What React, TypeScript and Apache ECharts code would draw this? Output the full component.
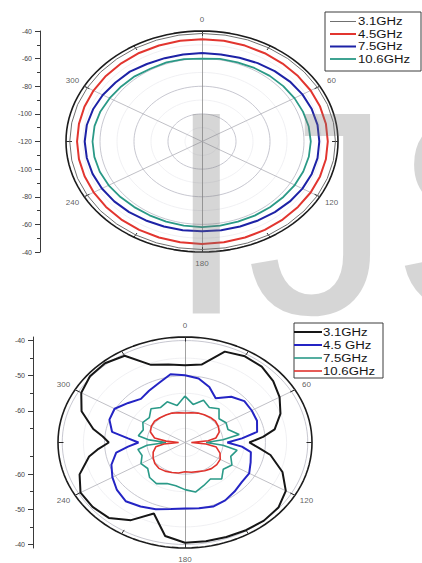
import React, { useEffect, useRef } from "react";
import * as echarts from "echarts";

const FONT = '"Liberation Sans", Arial, Helvetica, sans-serif';

// ---- polar frame shared by both plots (degrees, clockwise from top) ----
const ANGLE_LABELS = [0, 60, 120, 180, 240, 300];
const SPOKE_ANGLES = [0, 60, 120];
const RIM_TICK_ANGLES = [0, 30, 60, 90, 120, 150, 180, 210, 240, 270, 300, 330];

// ---- upper plot: radial scale -120 dB (centre) to -40 dB (rim) ----
const TOP_CENTER_DB = -120;
const TOP_RIM_DB = -40;
const TOP_RULER_LABELS = [-40, -60, -80, -100, -120];
const TOP_RULER_MINOR = [-50, -70, -90, -110];
const TOP_RINGS = [-100, -80, -60];
const TOP_FAINT_RINGS = [-110, -90, -70, -50];
const TOP_NAMES = ["3.1GHz", "4.5GHz", "7.5GHz", "10.6GHz"];
const TOP_COLORS = ["#707070", "#e2352f", "#1d22a6", "#2a9986"];
const TOP_WIDTHS = [1, 2, 2, 1.8];
const TOP_ANGLES = [
  0, 10, 20, 30, 40, 50, 60, 70, 80, 90, 100, 110, 120, 130, 140, 150, 160, 170,
  180, 190, 200, 210, 220, 230, 240, 250, 260, 270, 280, 290, 300, 310, 320, 330, 340, 350,
];
const TOP_3_1GHZ = [
  -41.8, -41.8, -41.7, -41.7, -41.6, -41.6, -41.6, -41.5, -41.5, -41.5, -41.5, -41.6,
  -41.6, -41.7, -41.7, -41.8, -41.8, -41.8, -41.8, -41.8, -41.9, -41.9, -42.0, -42.0,
  -42.1, -42.1, -42.2, -42.2, -42.2, -42.1, -42.1, -42.0, -42.0, -41.9, -41.9, -41.8,
];
const TOP_4_5GHZ = [
  -46.0, -46.0, -46.1, -46.2, -46.3, -46.3, -46.2, -46.1, -46.0, -46.0, -46.0, -46.1,
  -46.2, -46.3, -46.2, -46.1, -46.0, -45.9, -45.8, -45.9, -46.0, -46.1, -46.2, -46.3,
  -46.4, -46.5, -46.5, -46.5, -46.5, -46.4, -46.3, -46.2, -46.1, -46.0, -46.0, -46.0,
];
const TOP_7_5GHZ = [
  -56.0, -56.0, -55.5, -54.5, -53.5, -52.5, -51.8, -51.3, -51.0, -51.0, -51.0, -51.3,
  -51.8, -52.5, -53.3, -54.0, -54.5, -54.8, -55.0, -54.8, -54.5, -54.0, -53.3, -52.6,
  -52.0, -51.5, -51.2, -51.0, -51.2, -51.8, -52.6, -53.6, -54.0, -55.2, -55.8, -56.0,
];
const TOP_10_6GHZ = [
  -60.0, -59.3, -59.0, -58.5, -58.0, -57.6, -57.2, -56.8, -56.3, -56.0, -56.2, -56.6,
  -57.0, -57.5, -57.8, -58.0, -58.2, -58.2, -58.0, -58.2, -58.3, -58.3, -58.0, -57.4,
  -56.6, -56.0, -55.7, -55.6, -55.8, -56.4, -57.3, -58.0, -58.4, -59.2, -59.0, -59.5,
];

// ---- lower plot: radial scale -69 dB (centre) to -39 dB (rim) ----
const BOTTOM_CENTER_DB = -69;
const BOTTOM_RIM_DB = -39;
const BOTTOM_RULER_LABELS = [-40, -50, -60];
const BOTTOM_RULER_MINOR = [-45, -55, -65];
const BOTTOM_RINGS = [-60, -50, -40];
const BOTTOM_FAINT_RINGS = [-65, -55, -45];
const BOTTOM_NAMES = ["3.1GHz", "4.5 GHz", "7.5GHz", "10.6GHz"];
const BOTTOM_COLORS = ["#161616", "#2424c4", "#2a9a88", "#e0322c"];
const BOTTOM_WIDTHS = [2, 2, 1.6, 1.6];
const BOTTOM_ANGLES = [
  0, 10, 20, 30, 40, 50, 60, 70, 80, 85, 90, 95, 100, 110, 120, 130, 140, 150, 160, 170,
  180, 190, 200, 210, 220, 230, 240, 250, 260, 265, 270, 275, 280, 290, 300, 310, 320, 330, 340, 350,
];
const BOTTOM_3_1GHZ = [
  -47.0, -46.5, -41.5, -40.7, -40.8, -41.8, -43.2, -45.0, -47.5, -50.5, -53.8, -51.5, -48.5,
  -44.5, -41.5, -40.2, -40.0, -40.2, -40.4, -40.5, -40.5, -42.0, -47.5, -43.5, -41.0, -40.5,
  -40.5, -42.5, -46.0, -48.5, -51.0, -49.5, -47.0, -43.0, -40.7, -39.7, -39.6, -40.5, -45.5, -46.5,
];
const BOTTOM_4_5GHZ = [
  -49.9, -50.5, -52.2, -54.5, -52.0, -50.7, -50.8, -50.9, -51.7, -55.5, -59.0, -55.5, -53.2,
  -52.5, -51.5, -51.5, -50.8, -50.0, -49.6, -50.0, -50.2, -49.8, -48.8, -48.0, -47.2, -48.0,
  -49.2, -50.5, -52.5, -55.5, -58.0, -55.5, -51.5, -50.0, -49.8, -51.5, -52.8, -52.0, -51.0, -49.3,
];
const BOTTOM_7_5GHZ = [
  -55.8, -58.0, -56.2, -57.5, -56.5, -58.5, -57.8, -58.2, -56.0, -60.0, -64.0, -60.0, -56.5,
  -57.5, -56.2, -57.2, -55.5, -57.0, -56.0, -54.7, -55.6, -56.5, -56.6, -55.5, -56.0, -57.5,
  -57.0, -58.2, -57.7, -60.0, -64.5, -60.5, -57.8, -58.5, -57.5, -58.0, -56.5, -57.5, -56.7, -58.3,
];
const BOTTOM_10_6GHZ = [
  -60.6, -60.4, -60.1, -59.9, -59.7, -59.6, -59.9, -60.4, -61.6, -63.5, -67.5, -64.0, -61.5,
  -60.2, -59.4, -59.2, -59.3, -59.7, -60.2, -60.4, -60.7, -60.2, -59.9, -59.6, -59.4, -59.7,
  -60.3, -61.0, -62.0, -64.0, -67.5, -64.5, -61.7, -60.3, -59.8, -59.6, -59.8, -60.0, -60.1, -60.4,
];

type XY = [number, number];

const rad = (deg: number) => (deg * Math.PI) / 180;

// polar (angle, level) -> cartesian offset from the plot centre, in dB units
const toXY = (deg: number, db: number, centerDb: number): XY => {
  const r = db - centerDb;
  return [r * Math.sin(rad(deg)), r * Math.cos(rad(deg))];
};

const ringData = (db: number, centerDb: number): XY[] => {
  const pts: XY[] = [];
  for (let a = 0; a <= 360; a += 3) pts.push(toXY(a, db, centerDb));
  return pts;
};

const curveData = (angles: number[], values: number[], centerDb: number): XY[] => {
  const pts = angles.map((a, i) => toXY(a, values[i], centerDb));
  pts.push(pts[0]);
  return pts;
};

const mirrored = (labels: number[], centerDb: number) => {
  const out: number[] = [];
  labels.forEach((l) => {
    const r = l - centerDb;
    out.push(r);
    if (r !== 0) out.push(-r);
  });
  return out.sort((a, b) => a - b);
};

interface Panel {
  grid: number;
  yIndex: number;
  centerDb: number;
  rimDb: number;
  rings: number[];
  faintRings: number[];
  angles: number[];
  curves: number[][];
  names: string[];
  colors: string[];
  widths: number[];
  labelK: number;
  tickLen: number;
}

function panelSeries(p: Panel): any[] {
  const out: any[] = [];
  const base = {
    type: "line",
    xAxisIndex: p.grid,
    yAxisIndex: p.yIndex,
    symbol: "none",
    silent: true,
    clip: false,
    animation: false,
  };
  p.faintRings.forEach((db) =>
    out.push({ ...base, data: ringData(db, p.centerDb), lineStyle: { color: "#ececf0", width: 0.8 }, z: 1 })
  );
  p.rings.forEach((db) =>
    out.push({ ...base, data: ringData(db, p.centerDb), lineStyle: { color: "#b9b9c4", width: 0.8 }, z: 1 })
  );

  const spokes = SPOKE_ANGLES.map((a) => [
    { coord: toXY(a, p.rimDb, p.centerDb), lineStyle: { color: a === 0 ? "#8a8a8a" : "#b0b0b8", width: 0.8, type: "solid" } },
    { coord: toXY(a + 180, p.rimDb, p.centerDb) },
  ]);
  const ticks = RIM_TICK_ANGLES.map((a) => [
    { coord: toXY(a, p.rimDb, p.centerDb), lineStyle: { color: "#2a2a2a", width: 1, type: "solid" } },
    { coord: toXY(a, p.rimDb - p.tickLen, p.centerDb) },
  ]);
  out.push({
    ...base,
    data: ringData(p.rimDb, p.centerDb),
    lineStyle: { color: "#1c1c1c", width: 1.6 },
    z: 3,
    markLine: {
      silent: true,
      animation: false,
      symbol: ["none", "none"],
      label: { show: false },
      lineStyle: { color: "#b0b0b8", width: 0.8, type: "solid" },
      emphasis: { disabled: true },
      data: [...spokes, ...ticks],
    },
  });

  p.curves.forEach((vals, i) =>
    out.push({
      ...base,
      name: p.names[i],
      data: curveData(p.angles, vals, p.centerDb),
      lineStyle: { color: p.colors[i], width: p.widths[i] },
      z: 5 + i,
    })
  );

  const labelDb = p.centerDb + (p.rimDb - p.centerDb) * p.labelK;
  out.push({
    type: "scatter",
    xAxisIndex: p.grid,
    yAxisIndex: p.yIndex,
    silent: true,
    clip: false,
    animation: false,
    symbolSize: 1,
    itemStyle: { color: "rgba(0,0,0,0)" },
    data: ANGLE_LABELS.map((a) => [...toXY(a, labelDb, p.centerDb), a]),
    label: {
      show: true,
      position: "inside",
      formatter: (q: any) => String(q.value[2]),
      fontSize: 8,
      color: "#333",
      fontFamily: FONT,
    },
    z: 10,
  });
  return out;
}

function rulerAxes(grid: number, half: number, offset: number, centerDb: number, major: number[], minor: number[]) {
  const lineColor = "#3a3a3a";
  return [
    {
      gridIndex: grid,
      type: "value",
      min: -half,
      max: half,
      position: "left",
      offset,
      axisLine: { show: true, lineStyle: { color: lineColor, width: 1 } },
      axisTick: { show: true, length: 5, lineStyle: { color: lineColor }, customValues: major },
      axisLabel: {
        show: true,
        customValues: major,
        formatter: (v: number) => String(Math.round(centerDb + Math.abs(v))),
        fontSize: 7,
        color: "#444",
        fontFamily: FONT,
        margin: 8,
      },
      splitLine: { show: false },
    },
    {
      gridIndex: grid,
      type: "value",
      min: -half,
      max: half,
      position: "left",
      offset,
      axisLine: { show: false },
      axisTick: { show: true, length: 3, lineStyle: { color: lineColor }, customValues: minor },
      axisLabel: { show: false },
      splitLine: { show: false },
    },
  ];
}

function legendGraphic(
  box: { x: number; y: number; w: number; h: number },
  rows: number[],
  lineX: [number, number],
  textX: number,
  names: string[],
  colors: string[],
  widths: number[]
) {
  const children: any[] = [
    {
      type: "rect",
      shape: { x: box.x, y: box.y, width: box.w, height: box.h },
      style: { fill: "#fff", stroke: "#3c3c3c", lineWidth: 1 },
    },
  ];
  names.forEach((n, i) => {
    children.push({
      type: "line",
      shape: { x1: lineX[0], y1: rows[i], x2: lineX[1], y2: rows[i] },
      style: { stroke: colors[i], lineWidth: widths[i] },
    });
    children.push({
      type: "text",
      x: textX,
      y: rows[i],
      scaleX: 1.2,
      style: { text: n, fontSize: 11, fontFamily: FONT, fill: "#151515", align: "left", verticalAlign: "middle" },
    });
  });
  return { type: "group", silent: true, z: 20, children };
}

function buildOption() {
  const top: Panel = {
    grid: 0,
    yIndex: 0,
    centerDb: TOP_CENTER_DB,
    rimDb: TOP_RIM_DB,
    rings: TOP_RINGS,
    faintRings: TOP_FAINT_RINGS,
    angles: TOP_ANGLES,
    curves: [TOP_3_1GHZ, TOP_4_5GHZ, TOP_7_5GHZ, TOP_10_6GHZ],
    names: TOP_NAMES,
    colors: TOP_COLORS,
    widths: TOP_WIDTHS,
    labelK: 1.1,
    tickLen: 3.5,
  };
  const bottom: Panel = {
    grid: 1,
    yIndex: 3,
    centerDb: BOTTOM_CENTER_DB,
    rimDb: BOTTOM_RIM_DB,
    rings: BOTTOM_RINGS,
    faintRings: BOTTOM_FAINT_RINGS,
    angles: BOTTOM_ANGLES,
    curves: [BOTTOM_3_1GHZ, BOTTOM_4_5GHZ, BOTTOM_7_5GHZ, BOTTOM_10_6GHZ],
    names: BOTTOM_NAMES,
    colors: BOTTOM_COLORS,
    widths: BOTTOM_WIDTHS,
    labelK: 1.105,
    tickLen: 1.3,
  };
  const topHalf = TOP_RIM_DB - TOP_CENTER_DB;
  const bottomHalf = BOTTOM_RIM_DB - BOTTOM_CENTER_DB;

  return {
    animation: false,
    backgroundColor: "#ffffff",
    grid: [
      { left: 66, top: 31, width: 272, height: 221 },
      { left: 58, top: 337, width: 254, height: 211 },
    ],
    xAxis: [
      { gridIndex: 0, type: "value", min: -topHalf, max: topHalf, show: false },
      { gridIndex: 1, type: "value", min: -bottomHalf, max: bottomHalf, show: false },
    ],
    yAxis: [
      { gridIndex: 0, type: "value", min: -topHalf, max: topHalf, show: false },
      ...rulerAxes(0, topHalf, 26, TOP_CENTER_DB, mirrored(TOP_RULER_LABELS, TOP_CENTER_DB), mirrored(TOP_RULER_MINOR, TOP_CENTER_DB)),
      { gridIndex: 1, type: "value", min: -bottomHalf, max: bottomHalf, show: false },
      ...rulerAxes(1, bottomHalf, 25, BOTTOM_CENTER_DB, mirrored(BOTTOM_RULER_LABELS, BOTTOM_CENTER_DB), mirrored(BOTTOM_RULER_MINOR, BOTTOM_CENTER_DB)),
    ],
    series: [...panelSeries(top), ...panelSeries(bottom)],
    graphic: [
      legendGraphic({ x: 325, y: 12, w: 96, h: 59 }, [21.5, 34, 46.5, 59], [330, 356], 358, TOP_NAMES, TOP_COLORS, TOP_WIDTHS),
      legendGraphic({ x: 294, y: 323, w: 89, h: 55 }, [332, 345, 358, 371], [294, 322], 323, BOTTOM_NAMES, BOTTOM_COLORS, BOTTOM_WIDTHS),
      {
        type: "text",
        silent: true,
        z: 100,
        x: 166,
        y: 212.5,
        style: {
          text: "IJS",
          font: '290px "Liberation Sans", Arial, sans-serif',
          fill: "rgba(120,120,120,0.3)",
          align: "left",
          verticalAlign: "middle",
        },
      },
    ],
  };
}

export default function App() {
  const ref = useRef<HTMLDivElement>(null);
  useEffect(() => {
    if (!ref.current) return;
    const chart = echarts.init(ref.current, null, { renderer: "svg" });
    chart.setOption(buildOption() as any);
    return () => chart.dispose();
  }, []);
  return (
    <div
      ref={ref}
      style={{ position: "fixed", left: 0, top: 0, width: 422, height: 563, background: "#fff" }}
    />
  );
}
